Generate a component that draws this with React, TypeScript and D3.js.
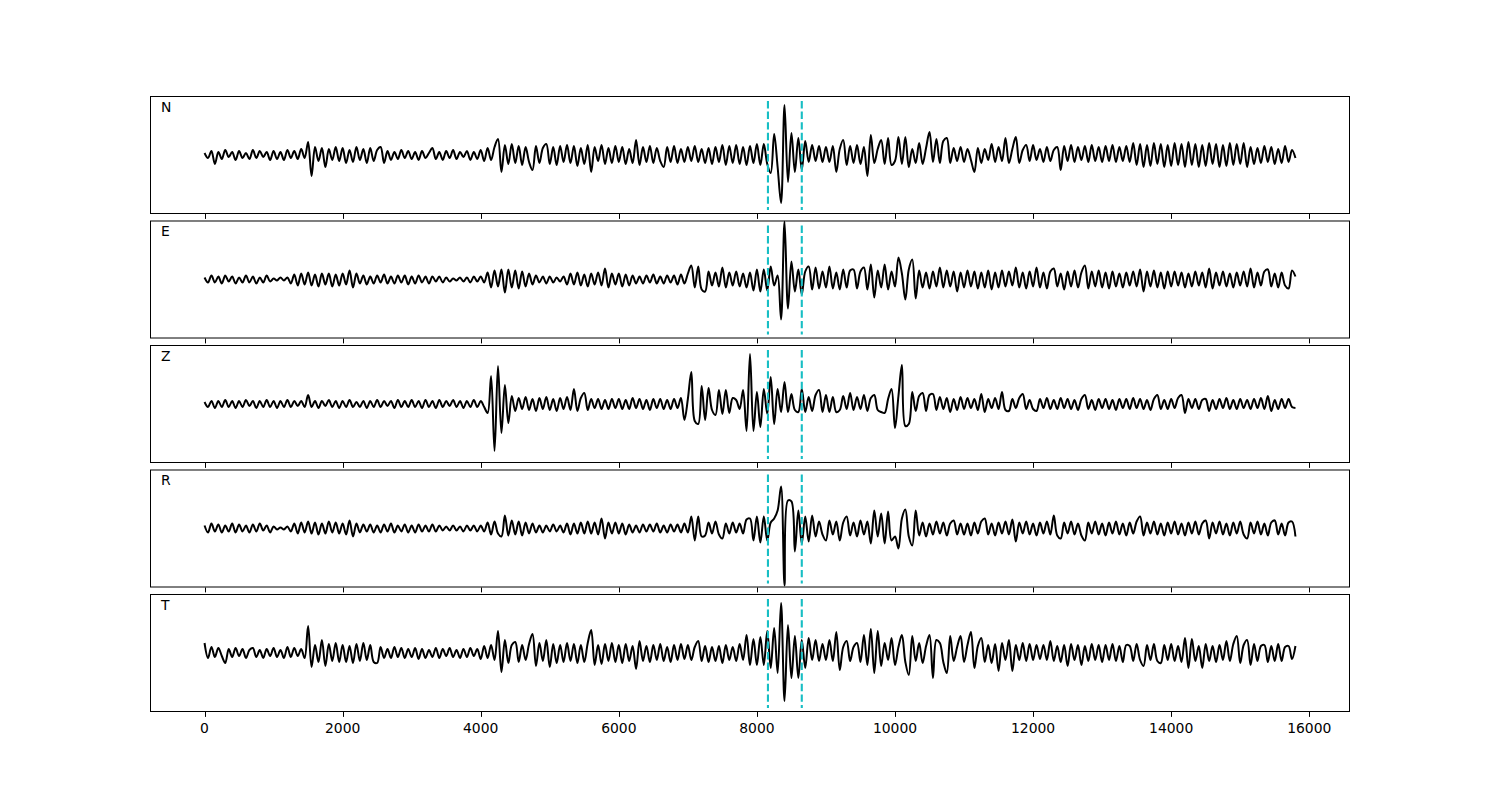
import React from "react";
import * as d3 from "d3";

// Component labels
const components = ["N", "E", "Z", "R", "T"];

// Sample span: values cover 0..15800
const T_START = 0;
const T_END = 15800;

// Vertical picks (dashed)
const picks = [8160, 8650];

// X tick values
const xTicks = [0, 2000, 4000, 6000, 8000, 10000, 12000, 14000, 16000];

// Amplitudes (arbitrary units, up positive)
const traceN = [
  2, -3, 4, -9, 3, -4, 5, -2, 3, -5, 4, -3, 2, -4, 5, -3, 4, -2, 3, -5,
  4, -4, 3, -5, 5, -3, 4, -4, 6, -3, 13, -21, 8, -6, 7, -12, 6, -5, 8, -6,
  7, -8, 5, -7, 8, -5, 6, -8, 7, -6, 5, 8, -8, 4, -5, 3, -4, 5, -3, 4,
  -4, 3, -5, 4, -3, 2, 7, -4, 3, -5, 4, -3, 5, -4, 3, -2, 4, -5, 3, -4,
  5, -6, 7, -5, 8, 16, -17, 10, -9, 11, -8, 9, -10, 8, -7, -15, 9, -8, 7, 11,
  -9, 8, -10, 9, -7, 10, -8, 9, -11, 7, -9, 10, -17, 8, -6, 10, -9, 7, -8, 9,
  -7, 8, -9, 6, -8, 15, -10, 8, -7, 9, -8, 7, -6, -12, 8, -7, 9, -8, 6, -7,
  8, -6, 9, -7, 6, -8, 7, -9, 8, -7, 10, -10, 9, -8, 10, -9, 8, -10, 9, -8,
  11, -10, 11, -9, -18, 21, -12, -48, 50, -27, 22, -17, 17, -15, 14, -7, 10, -6, 9, -7,
  8, -7, 9, -17, 6, 15, -10, 9, -8, 10, -9, 8, -21, 20, -8, 6, 15, -9, 17, -10,
  -6, 18, -9, 18, -12, 6, -8, 12, -9, 7, 23, -7, 16, -8, 14, 17, -8, 7, -6, 8,
  -7, 6, -5, -17, 7, -8, 6, -5, 11, -7, 8, -6, 17, -8, 6, 18, -8, 5, 10, -6,
  10, -5, 6, -7, 8, -6, 5, 8, -15, 9, -6, 10, -7, 8, -5, 9, -7, 10, -6, 8,
  -7, 9, -6, 10, -7, 8, -6, 9, -7, 12, -10, 11, -12, 10, -11, 12, -9, 11, -12, 10,
  -11, 12, -10, 11, -12, 13, -10, 11, -12, 10, -11, 12, -9, 11, -12, 10, -11, 12, -10, 11,
  -9, 12, -12, 8, -9, 7, -8, 9, -7, 8, -9, 6, -8, 9, -7, 5, -3,
];

const traceE = [
  2, -3, 4, -3, 3, -4, 4, -2, 3, -4, 2, -3, 4, -3, 3, -4, 2, -3, 4, -2,
  1, -1, 2, -1, 2, -4, 5, -6, 6, -5, 7, -6, 5, -7, 6, -5, 6, -7, 5, -6,
  6, -5, 9, -8, 6, -4, 4, -5, 3, -4, 4, -3, 5, -4, 3, -4, 4, -3, 4, -5,
  3, -4, 4, -3, 3, -4, 3, -2, 3, -3, 2, -2, 1, -1, 2, -2, 2, -3, 3, -2,
  3, -3, 7, -8, 9, -7, 10, -13, 10, -8, 9, -9, 8, -7, 6, -5, 4, -3, 3, -4,
  3, -3, 2, -2, 3, -5, 6, -5, 7, -6, 5, -7, 6, -5, 7, -6, 11, -8, 6, -5,
  6, -7, 5, -6, 4, -4, 3, -4, 4, -3, 5, -4, 3, -4, 4, -3, 4, -5, 5, -4,
  6, 14, -8, 13, -10, -12, 8, -6, 7, -7, 12, -8, 7, -6, 8, -7, 6, -8, 7, -11,
  10, -12, 10, -11, 13, -6, 4, -40, 58, -29, 18, -12, 10, -15, 8, 13, -10, 12, -9, 8,
  -8, 13, -9, 7, -10, 10, -8, 9, 10, -9, 8, 12, -10, 15, -18, 9, -8, 15, -10, 8,
  -7, 22, 6, -20, 10, 20, -19, 9, -8, 7, -9, 8, -7, 12, -8, 9, -7, 8, -12, 7,
  -8, 9, -7, 8, -9, 7, -8, 9, -10, 7, -8, 9, -7, 8, -6, 12, -8, 7, -9, 8,
  -7, 12, -8, 7, -9, 8, 11, -7, 6, -10, 8, -7, 9, -8, 7, 14, -9, 8, -7, 9,
  -8, 7, -9, 8, -7, 6, -8, 7, -6, 8, -7, 10, -12, 8, -7, 9, -8, 7, -9, 8,
  -7, 8, -6, 7, -8, 6, -7, 8, -6, 7, -8, 11, -9, 7, -6, 8, -7, 6, -8, 7,
  -6, 8, -7, 11, -8, 7, -6, 8, 10, -7, 6, -8, 7, -6, -9, 9, 3,
];

const traceZ = [
  2, -3, 3, -4, 3, -3, 4, -3, 3, -4, 3, -3, 4, -2, 3, -4, 3, -3, 4, -3,
  3, -4, 3, -3, 4, -3, 3, -2, 3, -3, 9, -3, 3, -4, 3, -2, 4, -3, 3, -4,
  3, -3, 4, -3, 2, -3, 3, -4, 3, -3, 4, -3, 3, -2, 3, -4, 4, -3, 3, -3,
  4, -3, 3, -4, 4, -3, 3, -4, 4, -3, 3, -2, 4, -3, 3, -4, 3, -3, 4, -3,
  3, -3, -9, 28, -47, 38, -29, 19, -19, 8, -7, 6, -5, 7, -6, 5, -7, 6, -5, 7,
  -6, 5, -7, 6, -5, 7, -6, 15, -7, 6, 11, -6, 5, -4, 5, -5, 4, -5, 5, -4,
  5, -5, 4, -5, 6, -4, 5, -5, 4, -6, 5, -4, 5, -5, 4, -5, 5, -4, 6, -16,
  5, 32, -17, -20, 18, -16, 16, -6, -11, 14, -10, 14, -9, 6, 4, -5, 14, -27, 50, -27,
  12, -23, 15, -10, 27, -20, 15, -8, 22, -8, 10, -6, -8, 15, -8, 7, -7, 9, 14, -8,
  9, -8, 7, -8, -6, 8, -5, 11, -6, 7, -5, 9, -7, 6, 9, -6, -8, -9, 5, 15,
  -24, 8, 39, -22, -20, 12, -7, 8, 11, -7, 9, 10, -6, 7, -5, 6, -8, 5, -6, 7,
  -5, 6, -4, 5, -6, 10, -8, 5, -4, 6, -5, 12, -6, -7, 5, -4, 6, 10, -5, 4,
  -5, -7, 5, -4, 6, -5, 4, -5, 6, -4, 5, -5, 4, -6, 5, 9, -5, 4, -6, 5,
  -4, 5, -5, 4, -6, 5, -4, 5, -5, 6, -4, 5, -5, 4, -6, 5, 9, -5, 4, -5,
  5, -4, 6, 9, -9, 5, -4, 5, -5, 4, 5, -7, 4, -5, 5, -4, 6, -5, 4, -5,
  5, -4, 4, -5, 5, -4, 6, -5, 8, -7, 4, -5, 5, -4, 5, -3, -4,
];

const traceR = [
  3, -4, 5, -3, 4, -4, 3, -3, 5, -4, 4, -3, 3, -4, 4, -3, 5, -2, 3, -4,
  2, -1, 1, -1, 2, -3, 5, -5, 6, -4, 7, -5, 6, -6, 5, -5, 7, -4, 6, -5,
  5, -6, 8, -8, 5, -4, 4, -3, 4, -4, 3, -4, 4, -3, 5, -4, 3, -3, 4, -4,
  3, -4, 4, -3, 3, -3, 4, -3, 3, -2, 2, -2, 3, -2, 2, -3, 3, -2, 3, -3,
  3, -3, 6, -6, 7, -5, -8, 13, -7, 8, -6, 7, -7, 6, -5, 5, -4, 3, -4, 3,
  -3, 4, -3, 3, -4, 5, -6, 5, -5, 6, -5, 7, -5, 6, -6, 10, -10, 6, -5, 6,
  -5, 5, -6, 4, -4, 3, -4, 4, -3, 4, -3, 5, -4, 3, -4, 4, -3, 4, -4, 5,
  -4, 12, -12, 12, -8, -7, 6, -5, 7, -6, -10, 5, -5, 6, -4, 5, -5, 9, 10, -12,
  12, -14, 12, -12, 6, 10, 18, 42, -57, 28, 27, -23, 18, -15, 12, -13, 13, -8, 7, -6,
  -12, 8, -6, 7, -12, 6, 12, -7, 6, -8, 8, -6, 7, -15, 18, -8, 15, -15, 17, -12,
  -8, -20, 10, 19, -8, -17, 18, -7, 6, -8, 5, -6, 7, -5, 6, -7, 5, 8, -6, 5,
  -6, 5, -7, 6, -5, 7, 10, -6, 5, -7, 6, -5, 7, -6, 9, -13, 6, -5, 7, -6,
  5, -7, 6, -5, 7, -6, 13, -7, -10, 6, -5, 7, -6, 5, -7, -12, 6, -5, 7, -6,
  5, -7, 6, -5, 7, -6, 5, -7, 6, -5, 7, 12, -7, 6, -5, 7, -6, 5, -7, 6,
  -5, 7, -6, 5, -7, 6, -5, 7, -6, 5, 8, -10, 6, -5, 7, -6, 5, -7, 6, -5,
  7, -6, -10, 6, -5, 7, -6, 5, -7, 6, 8, -6, 5, -7, 6, 7, -8,
];

const traceT = [
  10, -5, 6, -4, 5, -3, -10, 4, -4, 5, -3, 4, -5, 3, 5, -4, 3, -5, 4, -3,
  5, -4, 3, -5, 6, -4, 5, -3, 4, -5, 27, -14, 8, -9, 13, -13, 9, -8, 10, -9,
  8, -9, 7, -10, 9, -8, 10, -7, 8, -9, -10, 6, -5, 4, -5, 6, -4, 5, -5, 4,
  -4, 5, -6, 4, -5, 3, -4, 5, -5, 4, -3, 5, -4, 3, -5, 4, -4, 5, -3, 4,
  -6, 7, -5, 8, -7, 22, -19, 13, -10, 8, 11, -9, 8, -7, 9, 19, -13, 10, -8, 13,
  -14, 9, -10, 8, -9, 10, -8, 9, -10, 8, -9, 10, 23, -12, 8, -11, 9, -8, 10, -9,
  8, -10, 9, -8, 7, -16, 12, -8, 7, -9, 8, -7, 9, -8, 6, -9, 8, -7, 9, -6,
  8, -7, 6, 12, -8, 7, -9, 6, -8, 7, -10, 8, -7, 6, -8, 9, -7, 18, -12, 14,
  -12, 16, -12, 22, -15, 25, -20, 50, -48, 28, -25, 17, -25, 13, -15, 15, -7, 13, -8, 9,
  -7, 13, -8, 21, -17, 6, 12, -8, 6, 10, -9, 18, -12, 24, -20, 22, -13, 10, -7, 15,
  -12, 6, 18, -9, -22, 17, -8, 10, -10, 7, 18, -25, 13, 10, -9, -20, 17, -8, 6, 17,
  -9, 8, 21, -15, 7, 15, -9, 8, -10, 9, -18, 10, -7, 13, -18, 8, -7, 10, -8, 9,
  -7, 8, -6, 8, -7, 12, -8, 7, -9, 8, -13, 9, -7, 8, -12, 7, -8, 9, -7, 8,
  -9, 8, -7, 9, -8, 7, -9, 8, 7, -8, 9, -7, -13, 8, -7, 9, -8, -10, 8, -7,
  9, -8, 7, -9, 15, -15, 14, -8, 7, -15, 9, -8, 7, -9, 8, -7, 12, -8, 9, 17,
  -10, 8, 13, -12, 9, -8, 7, 8, -9, 7, -8, 9, -8, 6, 7, -6, 7,
];

const traces = [traceN, traceE, traceZ, traceR, traceT];

export default function App() {
  const W = 1500;
  const H = 800;
  const left = 150;
  const right = 1350;
  const top = 96;
  const bottom = 712;
  const nP = components.length;
  const hspace = 0.055;
  const ph = (bottom - top) / (nP + (nP - 1) * hspace);
  const gap = ph * hspace;

  const x = d3.scaleLinear().domain([-790, 16590]).range([left, right]);

  const font = "'DejaVu Sans', sans-serif";

  return (
    <svg
      width={W}
      height={H}
      style={{ position: "absolute", left: 0, top: 0, background: "#fff" }}
      fontFamily={font}
    >
      <rect x={0} y={0} width={W} height={H} fill="#fff" />
      {traces.map((vals, k) => {
        const y0 = top + k * (ph + gap);
        const y = d3.scaleLinear().domain([-59, 59]).range([y0 + ph, y0]);
        const n = vals.length;
        const t = (i: number) => T_START + (i * (T_END - T_START)) / (n - 1);
        const line = d3
          .line<number>()
          .x((_, i) => x(t(i)))
          .y((v) => y(v))
          .curve(d3.curveCatmullRom.alpha(0.5));
        const clipId = `clip${k}`;
        return (
          <g key={k}>
            <defs>
              <clipPath id={clipId}>
                <rect x={left} y={y0} width={right - left} height={ph} />
              </clipPath>
            </defs>
            <g clipPath={`url(#${clipId})`}>
              <path d={line(vals) || ""} fill="none" stroke="#000" strokeWidth={2} strokeLinejoin="round" />
              {picks.map((p, j) => (
                <line
                  key={j}
                  x1={x(p)}
                  x2={x(p)}
                  y1={y0 + 5}
                  y2={y0 + ph - 4}
                  stroke="#17bec4"
                  strokeWidth={2.1}
                  strokeDasharray="7.4,3.2"
                />
              ))}
            </g>
            <rect x={left + 0.5} y={y0 + 0.5} width={right - left - 1} height={ph - 1} fill="none" stroke="#000" strokeWidth={1} />
            {xTicks.map((tv) => (
              <line key={tv} x1={Math.round(x(tv)) + 0.5} x2={Math.round(x(tv)) + 0.5} y1={y0 + ph} y2={y0 + ph + 4.9} stroke="#000" strokeWidth={1} />
            ))}
            <text x={left + 11} y={y0 + 16} fontSize={13.9} fill="#000">
              {components[k]}
            </text>
            {k === nP - 1 &&
              xTicks.map((tv) => (
                <text key={"l" + tv} x={x(tv)} y={y0 + ph + 21} fontSize={13.9} textAnchor="middle" fill="#000">
                  {tv}
                </text>
              ))}
          </g>
        );
      })}
    </svg>
  );
}
